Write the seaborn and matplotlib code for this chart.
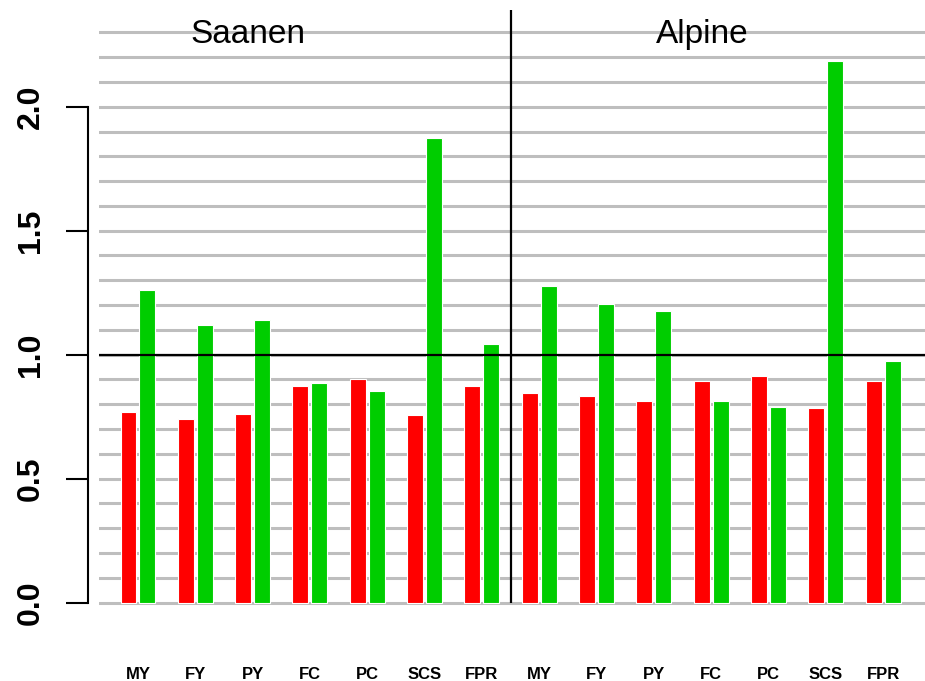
import numpy as np
import pandas as pd
import matplotlib
matplotlib.use("Agg")
import matplotlib.pyplot as plt
import seaborn as sns

# data
breeds = ["Saanen", "Alpine"]
traits = ["MY", "FY", "PY", "FC", "PC", "SCS", "FPR"]
saanen_red = [0.77, 0.74, 0.76, 0.875, 0.90, 0.755, 0.875]
saanen_green = [1.26, 1.12, 1.14, 0.885, 0.855, 1.875, 1.045]
alpine_red = [0.845, 0.835, 0.815, 0.895, 0.915, 0.785, 0.895]
alpine_green = [1.275, 1.205, 1.175, 0.815, 0.79, 2.185, 0.975]

rows = []
for breed, red, green in [("Saanen", saanen_red, saanen_green),
                          ("Alpine", alpine_red, alpine_green)]:
    for t, r, g in zip(traits, red, green):
        rows.append({"slot": breed + " " + t, "trait": t, "series": "red", "value": r})
        rows.append({"slot": breed + " " + t, "trait": t, "series": "green", "value": g})
df = pd.DataFrame(rows)
slots = list(dict.fromkeys(df["slot"]))

sns.set_style("white")
plt.rcParams["font.family"] = ["Liberation Sans", "DejaVu Sans"]
plt.rcParams["text.color"] = "black"
plt.rcParams["xtick.color"] = "black"
plt.rcParams["ytick.color"] = "black"
plt.rcParams["axes.edgecolor"] = "black"

fig = plt.figure(figsize=(9.25, 6.81), dpi=100)
ax = fig.add_axes([99 / 925, (681 - 620) / 681, 1 - 99 / 925, 610 / 681])

# grey grid behind the bars
for y in np.arange(0, 2.35, 0.1):
    ax.axhline(y, color="#BEBEBE", lw=2.2, zorder=0)

sns.barplot(data=df, x="slot", y="value", hue="series", order=slots,
            hue_order=["red", "green"],
            palette={"red": "#FF0000", "green": "#00CD00"}, saturation=1,
            width=0.662, gap=0.158, edgecolor="white", linewidth=0.8,
            legend=False, ax=ax, zorder=2)

ax.axhline(1.0, color="black", lw=1.6, zorder=3)
ax.vlines(6.5, 0, 2.39, color="black", lw=1.6, zorder=3)

ax.set_xlim(-0.68, 13.73)
ax.set_ylim(-0.07, 2.39)

for side in ["top", "right", "bottom"]:
    ax.spines[side].set_visible(False)
ax.spines["left"].set_position(("outward", 8))
ax.spines["left"].set_bounds(0, 2.0)
ax.spines["left"].set_linewidth(1.5)

ax.text(1.92, 2.29, "Saanen", fontsize=24, ha="center", va="center", zorder=4)
ax.text(9.84, 2.29, "Alpine", fontsize=24, ha="center", va="center", zorder=4)

ax.set_xticks(range(len(slots)))
ax.set_xticklabels([s.split(" ")[1] for s in slots], fontsize=12, fontweight="bold")
ax.tick_params(axis="x", length=0, pad=34)

ax.set_yticks([0, 0.5, 1.0, 1.5, 2.0])
ax.set_yticklabels(["0.0", "0.5", "1.0", "1.5", "2.0"], fontsize=23,
                   fontweight="bold", rotation=90, va="center")
ax.tick_params(axis="y", length=16, width=1.5, pad=14, direction="out", left=True)

ax.set_xlabel("")
ax.set_ylabel("")

fig.savefig("out.png", dpi=100)
